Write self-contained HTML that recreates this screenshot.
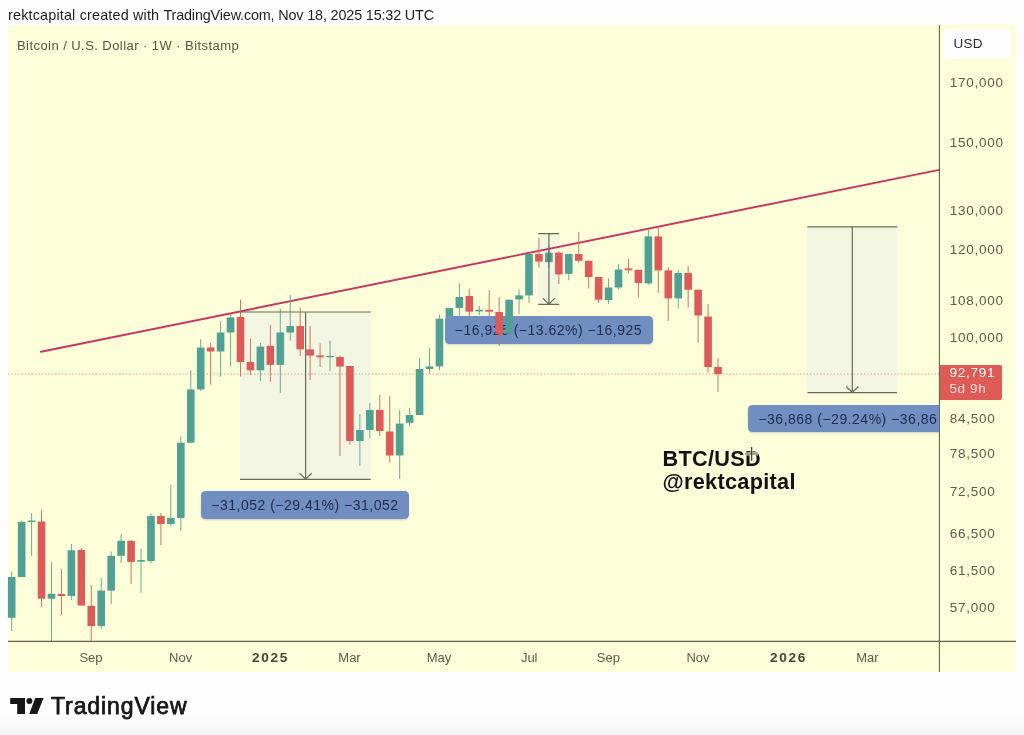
<!DOCTYPE html>
<html lang="en">
<head>
<meta charset="utf-8">
<title>BTC/USD chart</title>
<style>
html,body{margin:0;padding:0;}
body{width:1024px;height:735px;overflow:hidden;background:#fefefe;position:relative;font-family:"Liberation Sans",Arial,sans-serif;color:#222;}
.abs{position:absolute;white-space:nowrap;}
#chart{position:absolute;left:8px;top:24.8px;width:1008.1px;height:647.5px;background:#fcfeda;}
#footgrad{position:absolute;left:0;top:710px;width:1024px;height:25px;background:linear-gradient(#fefefe 0%,#fbfbfb 45%,#f3f3f3 100%);}
svg{position:absolute;left:0;top:0;}
.hdr{left:8px;top:7px;font-size:14.4px;color:#1e1e1e;letter-spacing:-0.03px;}
.title{left:17px;top:37.5px;font-size:13px;color:#55564a;letter-spacing:0.44px;}
.ax{left:949.8px;font-size:13.5px;color:#5b5c4e;letter-spacing:0.72px;line-height:14px;height:14px;}
.tm{font-size:13px;color:#5b5c4e;line-height:14px;height:14px;transform:translateX(-50%);top:651px;}
.tm.b{font-weight:bold;color:#44453a;letter-spacing:1.7px;font-size:13.6px;}
.lbl{background:#708ebf;border-radius:4.5px;color:#1f2b50;font-size:14px;line-height:29.4px;height:27.6px;letter-spacing:0.5px;box-sizing:border-box;padding-left:10px;overflow:hidden;box-shadow:0 1px 2px rgba(80,90,120,0.25);}
.usd{left:943.8px;top:29.3px;width:67.5px;height:29.3px;background:#fefefe;border-radius:4px;box-sizing:border-box;padding-left:9.7px;font-size:13.5px;line-height:29.4px;color:#2a2a2a;letter-spacing:0.3px;}
.ptag{left:939.5px;top:364.5px;width:62px;height:35px;background:#df5b56;border-radius:0 2px 2px 0;color:#fff;font-size:13.5px;letter-spacing:0.72px;box-sizing:border-box;padding-left:10px;line-height:16px;padding-top:0.4px;}
.ptag span{display:block;color:rgba(255,255,255,0.8);letter-spacing:0.6px;}
.big{left:662.5px;font-size:21.7px;font-weight:bold;color:#121212;letter-spacing:0.3px;line-height:24px;}
.tv{left:51px;top:692.3px;font-size:23px;font-weight:normal;color:#161616;line-height:28px;letter-spacing:0.9px;-webkit-text-stroke:0.75px #161616;}
</style>
</head>
<body>
<div id="chart"></div>
<div id="footgrad"></div>

<div class="abs hdr"><span style="letter-spacing:0.17px">rektcapital created with </span><span style="letter-spacing:-0.16px">TradingView.com, Nov 18, 2025 15:32 UTC</span></div>
<div class="abs title">Bitcoin / U.S. Dollar · 1W · Bitstamp</div>

<svg width="1024" height="735" viewBox="0 0 1024 735">
  <!-- measure boxes -->
  <g fill="#e9f0ea" fill-opacity="0.5">
    <rect x="240" y="312" width="130.6" height="167.4"/>
    <rect x="538.3" y="233.6" width="20.9" height="70.7"/>
    <rect x="807.4" y="226.8" width="89.8" height="165.9"/>
  </g>
  <!-- price dotted line -->
  <line x1="8" y1="374" x2="939" y2="374" stroke="#d79a84" stroke-width="1.1" stroke-dasharray="1.3 2.07"/>
  <!-- trend line -->
  <line x1="41" y1="351.7" x2="939.2" y2="169.85" stroke="#c9365f" stroke-width="1.9" stroke-linecap="round"/>
  <line x1="11.70" y1="572.0" x2="11.70" y2="631.0" stroke="#6ea897" stroke-width="1"/><rect x="7.90" y="577.0" width="7.6" height="40.8" fill="#51a095"/><line x1="21.65" y1="521.0" x2="21.65" y2="577.0" stroke="#6ea897" stroke-width="1"/><rect x="17.85" y="522.0" width="7.6" height="55.0" fill="#51a095"/><line x1="31.60" y1="513.0" x2="31.60" y2="555.8" stroke="#6ea897" stroke-width="1"/><rect x="27.80" y="520.5" width="7.6" height="1.5" fill="#51a095"/><line x1="41.54" y1="509.5" x2="41.54" y2="607.0" stroke="#cf7467" stroke-width="1"/><rect x="37.74" y="521.5" width="7.6" height="77.2" fill="#dc5b58"/><line x1="51.49" y1="562.0" x2="51.49" y2="641.0" stroke="#6ea897" stroke-width="1"/><rect x="47.69" y="593.8" width="7.6" height="4.9" fill="#51a095"/><line x1="61.44" y1="568.8" x2="61.44" y2="615.0" stroke="#cf7467" stroke-width="1"/><rect x="57.64" y="594.0" width="7.6" height="2.0" fill="#dc5b58"/><line x1="71.39" y1="544.0" x2="71.39" y2="600.0" stroke="#6ea897" stroke-width="1"/><rect x="67.59" y="550.3" width="7.6" height="45.7" fill="#51a095"/><line x1="81.34" y1="548.0" x2="81.34" y2="605.5" stroke="#cf7467" stroke-width="1"/><rect x="77.54" y="550.0" width="7.6" height="55.5" fill="#dc5b58"/><line x1="91.28" y1="585.0" x2="91.28" y2="641.0" stroke="#cf7467" stroke-width="1"/><rect x="87.48" y="605.8" width="7.6" height="20.2" fill="#dc5b58"/><line x1="101.23" y1="578.0" x2="101.23" y2="628.7" stroke="#6ea897" stroke-width="1"/><rect x="97.43" y="590.6" width="7.6" height="35.4" fill="#51a095"/><line x1="111.18" y1="551.7" x2="111.18" y2="604.0" stroke="#6ea897" stroke-width="1"/><rect x="107.38" y="555.8" width="7.6" height="34.8" fill="#51a095"/><line x1="121.13" y1="534.0" x2="121.13" y2="562.8" stroke="#6ea897" stroke-width="1"/><rect x="117.33" y="540.8" width="7.6" height="15.0" fill="#51a095"/><line x1="131.08" y1="540.0" x2="131.08" y2="583.8" stroke="#cf7467" stroke-width="1"/><rect x="127.28" y="540.8" width="7.6" height="21.2" fill="#dc5b58"/><line x1="141.02" y1="549.0" x2="141.02" y2="592.7" stroke="#6ea897" stroke-width="1"/><rect x="137.22" y="560.0" width="7.6" height="1.7" fill="#51a095"/><line x1="150.97" y1="513.6" x2="150.97" y2="563.0" stroke="#6ea897" stroke-width="1"/><rect x="147.17" y="516.0" width="7.6" height="45.0" fill="#51a095"/><line x1="160.92" y1="513.0" x2="160.92" y2="545.0" stroke="#cf7467" stroke-width="1"/><rect x="157.12" y="516.0" width="7.6" height="8.0" fill="#dc5b58"/><line x1="170.87" y1="485.0" x2="170.87" y2="526.6" stroke="#6ea897" stroke-width="1"/><rect x="167.07" y="518.0" width="7.6" height="6.0" fill="#51a095"/><line x1="180.82" y1="436.4" x2="180.82" y2="531.0" stroke="#6ea897" stroke-width="1"/><rect x="177.02" y="442.7" width="7.6" height="75.3" fill="#51a095"/><line x1="190.76" y1="370.3" x2="190.76" y2="442.7" stroke="#6ea897" stroke-width="1"/><rect x="186.96" y="389.4" width="7.6" height="53.3" fill="#51a095"/><line x1="200.71" y1="339.3" x2="200.71" y2="391.0" stroke="#6ea897" stroke-width="1"/><rect x="196.91" y="347.5" width="7.6" height="41.9" fill="#51a095"/><line x1="210.66" y1="343.0" x2="210.66" y2="384.7" stroke="#cf7467" stroke-width="1"/><rect x="206.86" y="347.5" width="7.6" height="4.0" fill="#dc5b58"/><line x1="220.61" y1="320.8" x2="220.61" y2="376.6" stroke="#6ea897" stroke-width="1"/><rect x="216.81" y="332.5" width="7.6" height="19.0" fill="#51a095"/><line x1="230.56" y1="314.0" x2="230.56" y2="366.5" stroke="#6ea897" stroke-width="1"/><rect x="226.76" y="317.5" width="7.6" height="15.0" fill="#51a095"/><line x1="240.50" y1="299.6" x2="240.50" y2="376.6" stroke="#cf7467" stroke-width="1"/><rect x="236.70" y="317.0" width="7.6" height="45.0" fill="#dc5b58"/><line x1="250.45" y1="338.5" x2="250.45" y2="375.0" stroke="#cf7467" stroke-width="1"/><rect x="246.65" y="362.0" width="7.6" height="8.3" fill="#dc5b58"/><line x1="260.40" y1="343.0" x2="260.40" y2="381.0" stroke="#6ea897" stroke-width="1"/><rect x="256.60" y="346.6" width="7.6" height="23.7" fill="#51a095"/><line x1="270.35" y1="325.0" x2="270.35" y2="382.0" stroke="#cf7467" stroke-width="1"/><rect x="266.55" y="345.8" width="7.6" height="19.1" fill="#dc5b58"/><line x1="280.30" y1="308.6" x2="280.30" y2="392.9" stroke="#6ea897" stroke-width="1"/><rect x="276.50" y="332.5" width="7.6" height="32.4" fill="#51a095"/><line x1="290.24" y1="295.0" x2="290.24" y2="340.4" stroke="#6ea897" stroke-width="1"/><rect x="286.44" y="326.0" width="7.6" height="6.5" fill="#51a095"/><line x1="300.19" y1="307.7" x2="300.19" y2="356.0" stroke="#cf7467" stroke-width="1"/><rect x="296.39" y="326.0" width="7.6" height="23.4" fill="#dc5b58"/><line x1="310.14" y1="326.0" x2="310.14" y2="380.0" stroke="#cf7467" stroke-width="1"/><rect x="306.34" y="349.4" width="7.6" height="6.2" fill="#dc5b58"/><line x1="320.09" y1="343.4" x2="320.09" y2="367.0" stroke="#cf7467" stroke-width="1"/><rect x="316.29" y="355.4" width="7.6" height="1.9" fill="#dc5b58"/><line x1="330.04" y1="340.7" x2="330.04" y2="371.0" stroke="#6ea897" stroke-width="1"/><rect x="326.24" y="356.0" width="7.6" height="1.2" fill="#51a095"/><line x1="339.98" y1="355.6" x2="339.98" y2="456.0" stroke="#cf7467" stroke-width="1"/><rect x="336.18" y="357.0" width="7.6" height="9.5" fill="#dc5b58"/><line x1="349.93" y1="366.0" x2="349.93" y2="445.0" stroke="#cf7467" stroke-width="1"/><rect x="346.13" y="366.0" width="7.6" height="75.0" fill="#dc5b58"/><line x1="359.88" y1="414.0" x2="359.88" y2="465.8" stroke="#6ea897" stroke-width="1"/><rect x="356.08" y="430.0" width="7.6" height="11.0" fill="#51a095"/><line x1="369.83" y1="403.0" x2="369.83" y2="438.3" stroke="#6ea897" stroke-width="1"/><rect x="366.03" y="410.0" width="7.6" height="20.0" fill="#51a095"/><line x1="379.78" y1="394.8" x2="379.78" y2="436.0" stroke="#cf7467" stroke-width="1"/><rect x="375.98" y="410.0" width="7.6" height="21.0" fill="#dc5b58"/><line x1="389.72" y1="396.0" x2="389.72" y2="462.8" stroke="#cf7467" stroke-width="1"/><rect x="385.92" y="431.5" width="7.6" height="24.0" fill="#dc5b58"/><line x1="399.67" y1="410.0" x2="399.67" y2="479.0" stroke="#6ea897" stroke-width="1"/><rect x="395.87" y="423.6" width="7.6" height="31.9" fill="#51a095"/><line x1="409.62" y1="407.9" x2="409.62" y2="426.4" stroke="#6ea897" stroke-width="1"/><rect x="405.82" y="415.0" width="7.6" height="7.8" fill="#51a095"/><line x1="419.57" y1="358.0" x2="419.57" y2="415.0" stroke="#6ea897" stroke-width="1"/><rect x="415.77" y="369.0" width="7.6" height="46.0" fill="#51a095"/><line x1="429.52" y1="347.9" x2="429.52" y2="373.7" stroke="#6ea897" stroke-width="1"/><rect x="425.72" y="366.4" width="7.6" height="2.6" fill="#51a095"/><line x1="439.46" y1="314.7" x2="439.46" y2="370.0" stroke="#6ea897" stroke-width="1"/><rect x="435.66" y="318.7" width="7.6" height="47.7" fill="#51a095"/><line x1="449.41" y1="307.9" x2="449.41" y2="320.0" stroke="#6ea897" stroke-width="1"/><rect x="445.61" y="307.9" width="7.6" height="10.8" fill="#51a095"/><line x1="459.36" y1="283.4" x2="459.36" y2="315.8" stroke="#6ea897" stroke-width="1"/><rect x="455.56" y="297.0" width="7.6" height="10.9" fill="#51a095"/><line x1="469.31" y1="288.6" x2="469.31" y2="322.0" stroke="#cf7467" stroke-width="1"/><rect x="465.51" y="296.0" width="7.6" height="15.7" fill="#dc5b58"/><line x1="479.26" y1="305.7" x2="479.26" y2="315.0" stroke="#6ea897" stroke-width="1"/><rect x="475.46" y="309.8" width="7.6" height="1.6" fill="#51a095"/><line x1="489.20" y1="290.0" x2="489.20" y2="324.7" stroke="#cf7467" stroke-width="1"/><rect x="485.40" y="309.8" width="7.6" height="1.9" fill="#dc5b58"/><line x1="519.05" y1="289.4" x2="519.05" y2="313.9" stroke="#6ea897" stroke-width="1"/><rect x="515.25" y="295.4" width="7.6" height="4.0" fill="#51a095"/><line x1="529.00" y1="254.0" x2="529.00" y2="303.0" stroke="#6ea897" stroke-width="1"/><rect x="525.20" y="254.0" width="7.6" height="41.4" fill="#51a095"/><line x1="538.94" y1="237.7" x2="538.94" y2="267.6" stroke="#cf7467" stroke-width="1"/><rect x="535.14" y="254.0" width="7.6" height="7.6" fill="#dc5b58"/><line x1="548.89" y1="246.0" x2="548.89" y2="268.0" stroke="#6ea897" stroke-width="1"/><rect x="545.09" y="252.6" width="7.6" height="9.6" fill="#51a095"/><line x1="558.84" y1="251.3" x2="558.84" y2="284.0" stroke="#cf7467" stroke-width="1"/><rect x="555.04" y="252.6" width="7.6" height="21.8" fill="#dc5b58"/><line x1="568.79" y1="254.0" x2="568.79" y2="280.4" stroke="#6ea897" stroke-width="1"/><rect x="564.99" y="254.0" width="7.6" height="19.9" fill="#51a095"/><line x1="578.74" y1="232.0" x2="578.74" y2="262.7" stroke="#cf7467" stroke-width="1"/><rect x="574.94" y="254.0" width="7.6" height="6.8" fill="#dc5b58"/><line x1="588.68" y1="260.8" x2="588.68" y2="288.6" stroke="#cf7467" stroke-width="1"/><rect x="584.88" y="260.8" width="7.6" height="16.2" fill="#dc5b58"/><line x1="598.63" y1="277.0" x2="598.63" y2="303.0" stroke="#cf7467" stroke-width="1"/><rect x="594.83" y="277.0" width="7.6" height="22.7" fill="#dc5b58"/><line x1="608.58" y1="278.5" x2="608.58" y2="303.8" stroke="#6ea897" stroke-width="1"/><rect x="604.78" y="287.5" width="7.6" height="12.5" fill="#51a095"/><line x1="618.53" y1="264.0" x2="618.53" y2="289.4" stroke="#6ea897" stroke-width="1"/><rect x="614.73" y="269.5" width="7.6" height="18.0" fill="#51a095"/><line x1="628.48" y1="259.0" x2="628.48" y2="273.0" stroke="#cf7467" stroke-width="1"/><rect x="624.68" y="268.4" width="7.6" height="1.9" fill="#dc5b58"/><line x1="638.42" y1="269.8" x2="638.42" y2="297.5" stroke="#cf7467" stroke-width="1"/><rect x="634.62" y="269.8" width="7.6" height="13.2" fill="#dc5b58"/><line x1="648.37" y1="229.0" x2="648.37" y2="284.8" stroke="#6ea897" stroke-width="1"/><rect x="644.57" y="236.4" width="7.6" height="47.0" fill="#51a095"/><line x1="658.32" y1="227.7" x2="658.32" y2="293.0" stroke="#cf7467" stroke-width="1"/><rect x="654.52" y="236.4" width="7.6" height="34.0" fill="#dc5b58"/><line x1="668.27" y1="267.0" x2="668.27" y2="321.0" stroke="#cf7467" stroke-width="1"/><rect x="664.47" y="270.4" width="7.6" height="28.0" fill="#dc5b58"/><line x1="678.22" y1="269.8" x2="678.22" y2="308.5" stroke="#6ea897" stroke-width="1"/><rect x="674.42" y="273.0" width="7.6" height="25.4" fill="#51a095"/><line x1="688.16" y1="265.8" x2="688.16" y2="307.4" stroke="#cf7467" stroke-width="1"/><rect x="684.36" y="273.0" width="7.6" height="16.7" fill="#dc5b58"/><line x1="698.11" y1="289.7" x2="698.11" y2="342.8" stroke="#cf7467" stroke-width="1"/><rect x="694.31" y="289.7" width="7.6" height="25.8" fill="#dc5b58"/><line x1="708.06" y1="303.9" x2="708.06" y2="372.7" stroke="#cf7467" stroke-width="1"/><rect x="704.26" y="316.6" width="7.6" height="50.4" fill="#dc5b58"/><line x1="718.01" y1="358.3" x2="718.01" y2="391.7" stroke="#cf7467" stroke-width="1"/><rect x="714.21" y="367.0" width="7.6" height="7.0" fill="#dc5b58"/>
  <!-- measure outlines and arrows -->
  <g stroke="#676a56" stroke-width="1.2" fill="none">
    <path d="M240 312H370.6M240 479.4H370.6M305.6 312V479M299.5 473.2L305.6 479.2L311.7 473.2"/>
    <path d="M538.3 233.6H559.2M538.3 304.3H559.2M548.9 233.6V304M542.8 298.1L548.9 304.1L555 298.1"/>
    <path d="M807.4 226.8H897.2M807.4 392.7H897.2M852.3 226.8V392.3M846.2 386.5L852.3 392.5L858.4 386.5"/>
  </g>
  <!-- axes -->
  <line x1="8" y1="641.4" x2="1016" y2="641.4" stroke="#626350" stroke-width="1.1"/>
  <line x1="939.4" y1="25" x2="939.4" y2="672" stroke="#626350" stroke-width="1.1"/>
</svg>

<!-- measurement labels -->
<div class="abs lbl" style="left:201.3px;top:491.3px;width:207.8px;">−31,052 (−29.41%) −31,052</div>
<div class="abs lbl" style="left:445.3px;top:316.3px;width:207.3px;padding-left:9.5px;">−16,925 (−13.62%) −16,925</div>
<div class="abs lbl" style="left:748.4px;top:404.5px;width:190.5px;border-radius:4.5px 0 0 4.5px;"><div style="width:178.6px;overflow:hidden;">−36,868 (−29.24%) −36,868</div></div>


<div class="abs usd">USD</div>
<div class="abs ax" style="top:75.5px">170,000</div>
<div class="abs ax" style="top:135.8px">150,000</div>
<div class="abs ax" style="top:204.4px">130,000</div>
<div class="abs ax" style="top:242.5px">120,000</div>
<div class="abs ax" style="top:294.2px">108,000</div>
<div class="abs ax" style="top:331.2px">100,000</div>
<div class="abs ptag">92,791<span>5d 9h</span></div>
<div class="abs ax" style="top:411.9px">84,500</div>
<div class="abs ax" style="top:446.7px">78,500</div>
<div class="abs ax" style="top:484.6px">72,500</div>
<div class="abs ax" style="top:526.6px">66,500</div>
<div class="abs ax" style="top:564.2px">61,500</div>
<div class="abs ax" style="top:600.5px">57,000</div>

<div class="abs tm" style="left:91px">Sep</div>
<div class="abs tm" style="left:180.6px">Nov</div>
<div class="abs tm b" style="left:270.5px">2025</div>
<div class="abs tm" style="left:349.5px">Mar</div>
<div class="abs tm" style="left:439px">May</div>
<div class="abs tm" style="left:529.2px">Jul</div>
<div class="abs tm" style="left:608.4px">Sep</div>
<div class="abs tm" style="left:698px">Nov</div>
<div class="abs tm b" style="left:788.5px">2026</div>
<div class="abs tm" style="left:867.4px">Mar</div>

<div class="abs big" style="top:447.4px">BTC/USD</div>
<div class="abs big" style="top:470.4px">@rektcapital</div>

<div class="abs tv">TradingView</div>
<svg width="1024" height="735" viewBox="0 0 1024 735">
  <line x1="499.15" y1="296.9" x2="499.15" y2="346.0" stroke="#cf7467" stroke-width="1"/><rect x="495.35" y="312.0" width="7.6" height="22.4" fill="#dc5b58"/><line x1="509.10" y1="299.7" x2="509.10" y2="333.6" stroke="#6ea897" stroke-width="1"/><rect x="505.30" y="299.7" width="7.6" height="33.9" fill="#51a095"/>
  <!-- crosshair cursor -->
  <g stroke="#fdfdd8" stroke-width="3.4" opacity="0.7"><path d="M751.6 447V460.8M745 453.7H758"/></g>
  <path d="M745 453.7H758" stroke="#9a9a94" stroke-width="2.2"/>
  <path d="M751.6 447V460.8" stroke="#44443c" stroke-width="1.3"/>
  <!-- TradingView logo mark -->
  <g fill="#161616">
    <path d="M10.2 697.9H25V713.9H17.2V704.1H10.2Z"/>
    <circle cx="29.4" cy="700.9" r="3"/>
    <path d="M35.3 697.9H43.6L37.2 713.9H29.2Z"/>
  </g>
</svg>
</body>
</html>
